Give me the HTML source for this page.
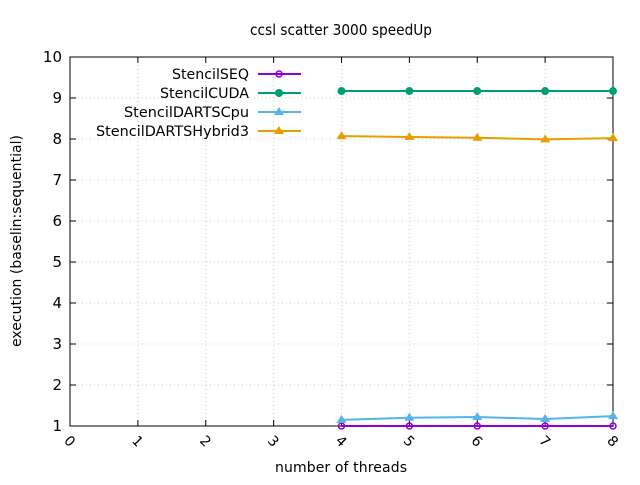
<!DOCTYPE html>
<html><head><meta charset="utf-8"><style>body{margin:0;background:#fff}svg{font-family:"DejaVu Sans","Liberation Sans",sans-serif}</style></head>
<body>
<svg id="c" width="640" height="480"></svg>
<script>
const xTicks=[0,1,2,3,4,5,6,7,8];
const yTicks=[1,2,3,4,5,6,7,8,9,10];
const threads=[4,5,6,7,8];
const seriesNames=["StencilSEQ","StencilCUDA","StencilDARTSCpu","StencilDARTSHybrid3"];
const seqVals=[1,1,1,1,1];
const cudaVals=[9.17,9.17,9.17,9.17,9.17];
const cpuVals=[1.15,1.2,1.22,1.17,1.24];
const hybVals=[8.07,8.05,8.03,7.99,8.02];
const L=70,R=613,T=57,B=426;
const sx=v=>L+(v-0)/(8-0)*(R-L);
const sy=v=>B-(v-1)/(10-1)*(B-T);
const svg=document.getElementById('c');const NS='http://www.w3.org/2000/svg';
function mk(t,a,p){const e=document.createElementNS(NS,t);for(const k in a)e.setAttribute(k,a[k]);(p||svg).appendChild(e);return e;}
let e;
e=mk('text',{x:341,y:35,'text-anchor':'middle','font-size':15,textLength:182,lengthAdjust:'spacingAndGlyphs'});e.textContent='ccsl scatter 3000 speedUp';


xTicks.forEach(v=>{
 if(v>0&&v<8){e=mk('line',{x1:sx(v),x2:sx(v),y1:T,y2:B,stroke:'#ccc','stroke-dasharray':'1,3'});}
 mk('line',{x1:sx(v),x2:sx(v),y1:B,y2:B-6,stroke:'#000'});mk('line',{x1:sx(v),x2:sx(v),y1:T,y2:T+6,stroke:'#000'});
 e=mk('text',{x:sx(v),y:446,'font-size':14,'text-anchor':'middle',transform:`rotate(45 ${sx(v)} 441)`});e.textContent=v;
 
 
});
yTicks.forEach(v=>{
 if(v>1&&v<10){mk('line',{x1:L,x2:R,y1:sy(v),y2:sy(v),stroke:'#ccc','stroke-dasharray':'1,3'});}
 mk('line',{x1:L,x2:L+6,y1:sy(v),y2:sy(v),stroke:'#000'});mk('line',{x1:R,x2:R-6,y1:sy(v),y2:sy(v),stroke:'#000'});
 e=mk('text',{x:L-8,y:sy(v)+5,'font-size':15,'text-anchor':'end'});e.textContent=v;
 
 
});
e=mk('rect',{x:L,y:T,width:R-L,height:B-T,fill:'none',stroke:'#000'});


e=mk('text',{x:341,y:472,'font-size':14,'text-anchor':'middle',textLength:132});e.textContent='number of threads';


e=mk('text',{x:21,y:241,'font-size':14,'text-anchor':'middle',transform:'rotate(-90 21 241)',textLength:212});e.textContent='execution (baselin:sequential)';


const colors=['#9400d3','#009e73','#56b4e9','#e69f00'];
const marks=['ocirc','circ','tri','tri'];
const legW=[77,89,125,153];
function marker(g,m,x,y,c){
 if(m==='ocirc')mk('circle',{cx:x,cy:y,r:3,fill:'none',stroke:c,'stroke-width':1.5},g);
 else if(m==='circ')mk('circle',{cx:x,cy:y,r:4,fill:c},g);
 else mk('polygon',{points:`${x},${y-5} ${x-5},${y+3} ${x+5},${y+3}`,fill:c},g);
}
[seqVals,cudaVals,cpuVals,hybVals].forEach((vals,i)=>{
 const g=mk('g',{});
 
 
 mk('polyline',{points:vals.map((v,j)=>sx(threads[j])+','+sy(v)).join(' '),fill:'none',stroke:colors[i],'stroke-width':2},g);
 vals.forEach((v,j)=>marker(g,marks[i],sx(threads[j]),sy(v),colors[i]));
 const ly=74+i*19;
 const lg=mk('g',{});
 
 
 const t=mk('text',{x:249,y:ly+5,'font-size':14,'text-anchor':'end',textLength:legW[i],lengthAdjust:'spacingAndGlyphs'},lg);t.textContent=seriesNames[i];
 mk('line',{x1:258,x2:301,y1:ly,y2:ly,stroke:colors[i],'stroke-width':2},lg);
 marker(lg,marks[i],279,ly,colors[i]);
});
</script>
</body></html>
